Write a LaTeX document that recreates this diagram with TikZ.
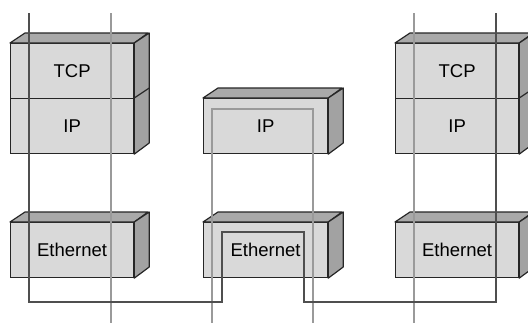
\documentclass[tikz,border=0pt]{standalone}
\usepackage{fontspec}
\setmainfont{Liberation Sans}
\definecolor{frontc}{HTML}{D9D9D9}
\definecolor{topc}{HTML}{A9A9A9}
\definecolor{sidec}{HTML}{A2A2A2}
\definecolor{darkln}{HTML}{4F4F4F}
\definecolor{lightln}{HTML}{9A9A9A}
\begin{document}
\begin{tikzpicture}[x=1pt,y=-1pt,
  face/.style={draw=black!85, line width=1.2pt, fill=frontc, minimum width=123pt,
    minimum height=55pt, inner sep=0pt, anchor=north west,
    font=\fontsize{18.5}{21}\selectfont},
  topface/.style={draw=black!85, line width=1.2pt, fill=topc, line join=round},
  sideface/.style={draw=black!85, line width=1.2pt, fill=sidec, line join=round},
  darkpath/.style={draw=darkln, line width=1.4pt},
  lightpath/.style={draw=lightln, line width=1.4pt}]
\useasboundingbox (0,0) rectangle (528,322);
\clip (0,0) rectangle (528,322);
\fill[white] (0,0) rectangle (528,322);
% left stack
\node[face] (ltcp) at (10,43) {TCP};
\node[face] (lip) at (10,98) {IP};
\path[topface] (ltcp.north west) -- ++(15,-10) -- ++(123,0) -- (ltcp.north east) -- cycle;
\path[sideface] (ltcp.north east) -- ++(15,-10) -- ++(0,110) -- (lip.south east) -- cycle;
\draw[black!85, line width=1.2pt] (lip.north east) -- ++(15,-10);
% right stack
\node[face] (rtcp) at (395,43) {TCP};
\node[face] (rip) at (395,98) {IP};
\path[topface] (rtcp.north west) -- ++(15,-10) -- ++(123,0) -- (rtcp.north east) -- cycle;
\path[sideface] (rtcp.north east) -- ++(15,-10) -- ++(0,110) -- (rip.south east) -- cycle;
\draw[black!85, line width=1.2pt] (rip.north east) -- ++(15,-10);
% middle IP
\node[face, minimum width=124pt] (mip) at (203,98) {IP};
\path[topface] (mip.north west) -- ++(15,-10) -- ++(124,0) -- (mip.north east) -- cycle;
\path[sideface] (mip.north east) -- ++(15,-10) -- ++(0,55) -- (mip.south east) -- cycle;
% ethernet boxes
\node[face] (leth) at (10,222) {Ethernet};
\node[face, minimum width=124pt] (meth) at (203,222) {Ethernet};
\node[face] (reth) at (395,222) {Ethernet};
\foreach \b/\w in {leth/123, meth/124, reth/123}{
  \path[topface] (\b.north west) -- ++(15,-10) -- ++(\w,0) -- (\b.north east) -- cycle;
  \path[sideface] (\b.north east) -- ++(15,-10) -- ++(0,55) -- (\b.south east) -- cycle;
}
% path coordinates
\coordinate (d1) at (29,13);
\coordinate (d2) at (29,302);
\coordinate (d3) at (222,302);
\coordinate (d4) at (222,232);
\coordinate (d5) at (304,232);
\coordinate (d6) at (304,302);
\coordinate (d7) at (496,302);
\coordinate (d8) at (496,13);
\coordinate (l1t) at (111,13);
\coordinate (l1b) at (111,323);
\coordinate (l2t) at (414,13);
\coordinate (l2b) at (414,323);
\coordinate (m1) at (212,323);
\coordinate (m2) at (212,109);
\coordinate (m3) at (313,109);
\coordinate (m4) at (313,323);
% lines
\draw[lightpath] (l1t) -- (l1b);
\draw[lightpath] (l2t) -- (l2b);
\draw[lightpath] (m1) -- (m2) -- (m3) -- (m4);
\draw[darkpath] (d1) -- (d2) -- (d3) -- (d4) -- (d5) -- (d6) -- (d7) -- (d8);
\end{tikzpicture}
\end{document}
